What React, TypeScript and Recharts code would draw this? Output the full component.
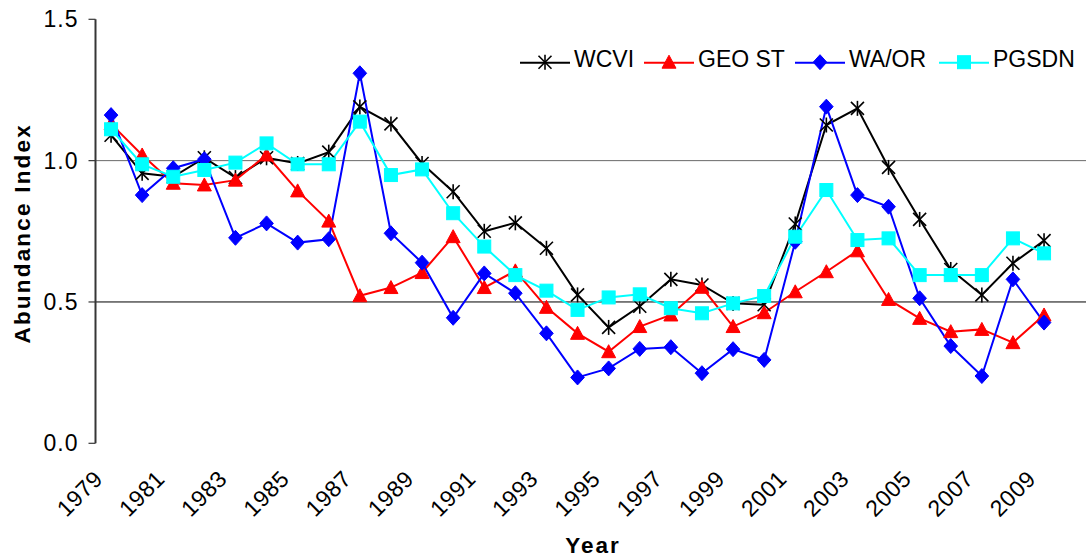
import React from 'react';
import { LineChart, Line, XAxis, YAxis, ReferenceLine, Legend } from 'recharts';

const FONT = '"Liberation Sans", Arial, Helvetica, sans-serif';

const years = [
  1979, 1980, 1981, 1982, 1983, 1984, 1985, 1986, 1987, 1988, 1989, 1990, 1991, 1992, 1993, 1994,
  1995, 1996, 1997, 1998, 1999, 2000, 2001, 2002, 2003, 2004, 2005, 2006, 2007, 2008, 2009, 2010,
];

const wcvi = [
  1.09, 0.955, 0.943, 1.01, 0.94, 1.01, 0.99, 1.03, 1.19, 1.13, 0.99, 0.89, 0.75, 0.78, 0.69, 0.525,
  0.41, 0.485, 0.58, 0.56, 0.495, 0.49, 0.776, 1.126, 1.185, 0.976, 0.792, 0.615, 0.525, 0.637, 0.717, null,
];
const geoSt = [
  1.13, 1.02, 0.92, 0.914, 0.931, 1.02, 0.893, 0.786, 0.522, 0.551, 0.604, 0.731, 0.551, 0.61, 0.481, 0.389,
  0.324, 0.413, 0.454, 0.552, 0.413, 0.462, 0.536, 0.607, 0.681, 0.509, 0.442, 0.395, 0.403, 0.356, 0.454, null,
];
const waOr = [
  1.161, 0.878, 0.973, 1.005, 0.727, 0.778, 0.71, 0.722, 1.309, 0.743, 0.639, 0.444, 0.601, 0.531, 0.389, 0.233,
  0.265, 0.334, 0.34, 0.248, 0.333, 0.295, 0.713, 1.191, 0.878, 0.837, 0.513, 0.344, 0.238, 0.58, 0.427, null,
];
const pgsdn = [
  1.111, 0.987, 0.943, 0.967, 0.993, 1.061, 0.987, 0.987, 1.138, 0.949, 0.969, 0.814, 0.696, 0.595, 0.54, 0.472,
  0.516, 0.527, 0.478, 0.46, 0.495, 0.521, 0.731, 0.896, 0.719, 0.725, 0.595, 0.595, 0.595, 0.725, 0.672, null,
];

const yTicks = [0, 0.5, 1.0, 1.5];
const yMinorTicks = [0, 0.1, 0.2, 0.3, 0.4, 0.5, 0.6, 0.7, 0.8, 0.9, 1.0, 1.1, 1.2, 1.3, 1.4, 1.5];
const xLabelTicks = [1979, 1981, 1983, 1985, 1987, 1989, 1991, 1993, 1995, 1997, 1999, 2001, 2003, 2005, 2007, 2009];
const xBoundaryTicks = [
  1978.5, 1979.5, 1980.5, 1981.5, 1982.5, 1983.5, 1984.5, 1985.5, 1986.5, 1987.5, 1988.5, 1989.5, 1990.5,
  1991.5, 1992.5, 1993.5, 1994.5, 1995.5, 1996.5, 1997.5, 1998.5, 1999.5, 2000.5, 2001.5, 2002.5, 2003.5,
  2004.5, 2005.5, 2006.5, 2007.5, 2008.5, 2009.5, 2010.5,
];
const xDomain = [1978.5, 2010.5];

const data = years.map((year, i) => ({
  year,
  wcvi: wcvi[i],
  geoSt: geoSt[i],
  waOr: waOr[i],
  pgsdn: pgsdn[i],
}));

type Shape = 'star' | 'triangle' | 'diamond' | 'square';

const series: { key: string; name: string; color: string; shape: Shape }[] = [
  { key: 'wcvi', name: 'WCVI', color: '#000000', shape: 'star' },
  { key: 'geoSt', name: 'GEO ST', color: '#ff0000', shape: 'triangle' },
  { key: 'waOr', name: 'WA/OR', color: '#0000ff', shape: 'diamond' },
  { key: 'pgsdn', name: 'PGSDN', color: '#00ffff', shape: 'square' },
];

const AXIS_COLOR = '#363636';

function Marker({ cx, cy, shape, color }: { cx: number; cy: number; shape: Shape; color: string }) {
  if (shape === 'star') {
    return (
      <g stroke={color} strokeWidth={1.6} fill="none">
        <line x1={cx} y1={cy - 7.5} x2={cx} y2={cy + 7.5} />
        <line x1={cx - 6.5} y1={cy - 6.5} x2={cx + 6.5} y2={cy + 6.5} />
        <line x1={cx - 6.5} y1={cy + 6.5} x2={cx + 6.5} y2={cy - 6.5} />
      </g>
    );
  }
  if (shape === 'triangle') {
    return <polygon points={`${cx},${cy - 7} ${cx + 7},${cy + 6} ${cx - 7},${cy + 6}`} fill={color} stroke={color} strokeWidth={1} />;
  }
  if (shape === 'diamond') {
    return <polygon points={`${cx},${cy - 7.5} ${cx + 6.8},${cy} ${cx},${cy + 7.5} ${cx - 6.8},${cy}`} fill={color} stroke={color} strokeWidth={1} />;
  }
  return <rect x={cx - 6.5} y={cy - 6.5} width={13} height={13} fill={color} stroke={color} strokeWidth={1} />;
}

const makeDot = (shape: Shape, color: string) => (props: any) => {
  const { cx, cy, value, index } = props;
  if (cx == null || cy == null || value == null || Number.isNaN(cy)) return <g key={`d-${shape}-${index}`} />;
  return (
    <g key={`d-${shape}-${index}`}>
      <Marker cx={cx} cy={cy} shape={shape} color={color} />
    </g>
  );
};

const YearTick = (props: any) => {
  const { x, y, payload } = props;
  return (
    <g transform={`translate(${x - 7},${y + 29})`}>
      <text transform="rotate(-45)" textAnchor="end" fontSize={23} letterSpacing={0.5} fill="#000" fontFamily={FONT}>
        {payload.value}
      </text>
    </g>
  );
};

const legendStarts = [520, 644, 795, 939];

const LegendContent = () => (
  <svg width={1086} height={90} style={{ display: 'block' }}>
    {series.map((s, i) => {
      const x0 = legendStarts[i];
      return (
        <g key={s.key}>
          <line x1={x0} y1={62.7} x2={x0 + 50} y2={62.7} stroke={s.color} strokeWidth={2} />
          <Marker cx={x0 + 25} cy={62.2} shape={s.shape} color={s.color} />
          <text x={x0 + 54} y={67} fontSize={23} fill="#000" fontFamily={FONT}>
            {s.name}
          </text>
        </g>
      );
    })}
  </svg>
);

export default function App() {
  return (
    <div
      style={{
        position: 'fixed',
        left: 0,
        top: 0,
        width: 1086,
        height: 556,
        overflow: 'hidden',
        background: '#ffffff',
        fontFamily: FONT,
      }}
    >
      <LineChart width={1100} height={556} data={data} margin={{ top: 19.3, right: 9.3, bottom: 12.7, left: 0 }}>
        <YAxis
          yAxisId="minor"
          orientation="left"
          type="number"
          width={0}
          mirror
          domain={[0, 1.5]}
          ticks={yMinorTicks}
          tick={false}
          tickSize={6}
          tickLine={{ stroke: AXIS_COLOR, strokeWidth: 1 }}
          axisLine={false}
        />
        <YAxis
          yAxisId="main"
          orientation="left"
          type="number"
          width={95.5}
          domain={[0, 1.5]}
          ticks={yTicks}
          interval={0}
          tickFormatter={(v: number) => v.toFixed(1)}
          tickSize={7}
          tickMargin={10}
          axisLine={{ stroke: AXIS_COLOR, strokeWidth: 2 }}
          tickLine={{ stroke: AXIS_COLOR, strokeWidth: 1.2 }}
          tick={{ fill: '#000', fontSize: 23, fontFamily: FONT, letterSpacing: 1 }}
          label={{
            content: (p: any) => {
              const vb = p.viewBox || { x: 0, y: 19.3, width: 95.5, height: 424 };
              const cy = vb.y + vb.height / 2 + 2;
              return (
                <text
                  x={30}
                  y={cy}
                  transform={`rotate(-90, 30, ${cy})`}
                  textAnchor="middle"
                  fontSize={22.5}
                  fontWeight="bold"
                  letterSpacing={2.2}
                  fill="#000"
                  fontFamily={FONT}
                >
                  Abundance Index
                </text>
              );
            },
          }}
        />
        <XAxis
          xAxisId="bounds"
          type="number"
          dataKey="year"
          domain={xDomain}
          ticks={xBoundaryTicks}
          interval={0}
          height={0}
          tick={false}
          tickSize={6}
          tickLine={{ stroke: AXIS_COLOR, strokeWidth: 1.2 }}
          axisLine={{ stroke: AXIS_COLOR, strokeWidth: 2 }}
        />
        <XAxis
          xAxisId="labels"
          type="number"
          dataKey="year"
          domain={xDomain}
          ticks={xLabelTicks}
          interval={0}
          height={100}
          tickLine={false}
          axisLine={false}
          tick={<YearTick />}
          label={{
            content: (p: any) => {
              const vb = p.viewBox || { x: 95.5, y: 443.3, width: 995, height: 100 };
              return (
                <text
                  x={vb.x + vb.width / 2}
                  y={552.5}
                  textAnchor="middle"
                  fontSize={22.5}
                  fontWeight="bold"
                  letterSpacing={2}
                  fill="#000"
                  fontFamily={FONT}
                >
                  Year
                </text>
              );
            },
          }}
        />
        <ReferenceLine xAxisId="bounds" yAxisId="main" y={1.0} stroke="#6a6a6a" strokeWidth={1} />
        <ReferenceLine xAxisId="bounds" yAxisId="main" y={0.5} stroke="#000000" strokeWidth={1} />
        {series.map((s) => (
          <Line
            key={s.key}
            xAxisId="bounds"
            yAxisId="main"
            type="linear"
            dataKey={s.key}
            name={s.name}
            stroke={s.color}
            strokeWidth={2}
            dot={makeDot(s.shape, s.color)}
            activeDot={false}
            isAnimationActive={false}
          />
        ))}
        <Legend
          layout="horizontal"
          verticalAlign="middle"
          align="center"
          content={() => <LegendContent />}
          wrapperStyle={{ position: 'absolute', left: 0, top: 0, width: 1086, height: 90 }}
        />
      </LineChart>
    </div>
  );
}
